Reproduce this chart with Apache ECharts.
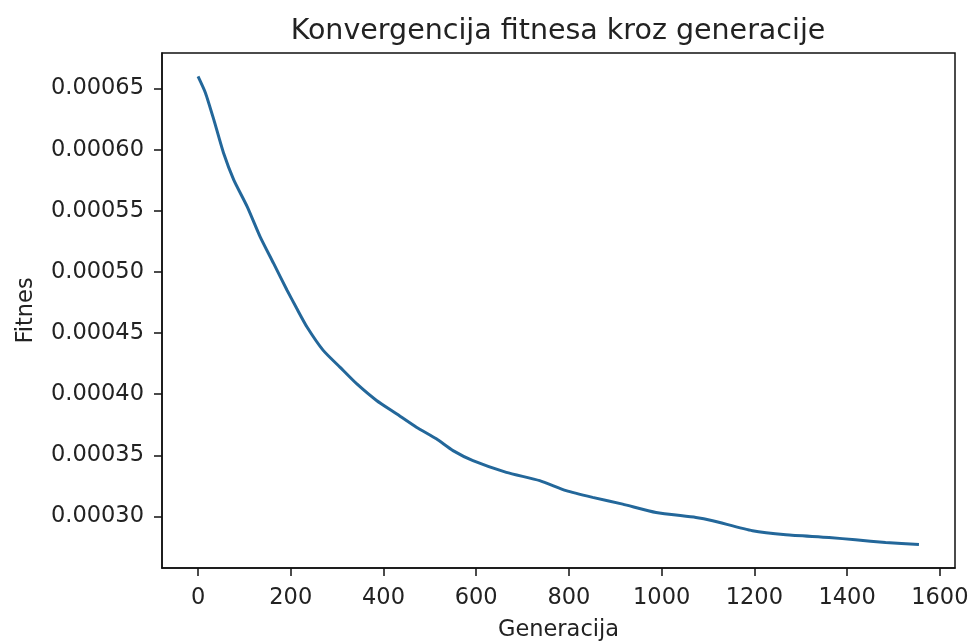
<!DOCTYPE html>
<html>
<head>
<meta charset="utf-8">
<script src="https://cdn.jsdelivr.net/npm/echarts@6/dist/echarts.min.js"></script>
<style>
  html, body { margin: 0; padding: 0; background: #ffffff; }
  #chart { width: 970px; height: 643px; }
</style>
</head>
<body>
<div id="chart"></div>
<script>
// Best fitness per generation
const generations = [0, 16, 34, 55, 77, 106, 134, 163, 192, 213, 235, 270, 306, 342, 385, 428, 471, 514, 550, 593, 665, 737, 794, 851, 916, 988, 1074, 1110, 1196, 1268, 1361, 1418, 1483, 1555];
const fitness = [0.000660, 0.0006465, 0.0006246, 0.0005973, 0.0005754, 0.0005535, 0.0005288, 0.0005070, 0.0004851, 0.0004701, 0.0004550, 0.0004359, 0.0004222, 0.0004086, 0.0003949, 0.0003840, 0.0003730, 0.0003635, 0.0003539, 0.0003457, 0.0003361, 0.0003293, 0.0003211, 0.0003156, 0.0003101, 0.0003033, 0.0002992, 0.0002965, 0.0002883, 0.0002850, 0.0002828, 0.0002809, 0.0002787, 0.0002770];

const xTicks = [0, 200, 400, 600, 800, 1000, 1200, 1400, 1600];
const yTicks = [0.00030, 0.00035, 0.00040, 0.00045, 0.00050, 0.00055, 0.00060, 0.00065];

// 5% padding around the data range on both axes
const xSpan = generations[generations.length - 1] - generations[0];
const xMin = generations[0] - 0.05 * xSpan;
const xMax = generations[generations.length - 1] + 0.05 * xSpan;
const yLo = Math.min(...fitness), yHi = Math.max(...fitness);
const ySpan = yHi - yLo;
const yMin = yLo - 0.05 * ySpan;
const yMax = yHi + 0.05 * ySpan;

const font = 'DejaVu Sans';
const ink = '#222';
const chart = echarts.init(document.getElementById('chart'), null, { renderer: 'canvas' });

chart.setOption({
  backgroundColor: '#ffffff',
  animation: false,
  title: {
    text: 'Konvergencija fitnesa kroz generacije',
    left: 553, top: 12, textAlign: 'center',
    textStyle: { fontFamily: font, fontSize: 28.5, fontWeight: 'normal', color: ink }
  },
  grid: {
    left: 162, top: 53, right: 15, bottom: 75,
    containLabel: false, outerBoundsMode: 'none',
    show: true, borderColor: '#111', borderWidth: 1.5, backgroundColor: 'transparent'
  },
  xAxis: {
    type: 'value', min: xMin, max: xMax,
    name: 'Generacija', nameLocation: 'middle', nameGap: 51,
    nameTextStyle: { fontFamily: font, fontSize: 22.5, color: ink },
    axisLine: { show: true, onZero: false, lineStyle: { color: '#111', width: 1.5 } },
    axisTick: { show: true, length: 8, lineStyle: { color: '#111', width: 1.5 }, customValues: xTicks },
    axisLabel: {
      fontFamily: font, fontSize: 22.5, color: ink, margin: 19, customValues: xTicks,
      formatter: v => String(v)
    },
    splitLine: { show: false }
  },
  yAxis: {
    type: 'value', min: yMin, max: yMax,
    name: 'Fitnes', nameLocation: 'middle', nameGap: 124, nameRotate: 90,
    nameTextStyle: { fontFamily: font, fontSize: 22.5, color: ink },
    axisLine: { show: true, onZero: false, lineStyle: { color: '#111', width: 1.5 } },
    axisTick: { show: true, length: 8, lineStyle: { color: '#111', width: 1.5 }, customValues: yTicks },
    axisLabel: {
      fontFamily: font, fontSize: 22.5, color: ink, margin: 18, customValues: yTicks,
      formatter: v => v.toFixed(5)
    },
    splitLine: { show: false }
  },
  series: [{
    type: 'line',
    data: generations.map((g, i) => [g, fitness[i]]),
    showSymbol: false,
    smooth: 0.2,
    lineStyle: { color: '#23679a', width: 3 },
    clip: true
  }]
});
</script>
</body>
</html>
